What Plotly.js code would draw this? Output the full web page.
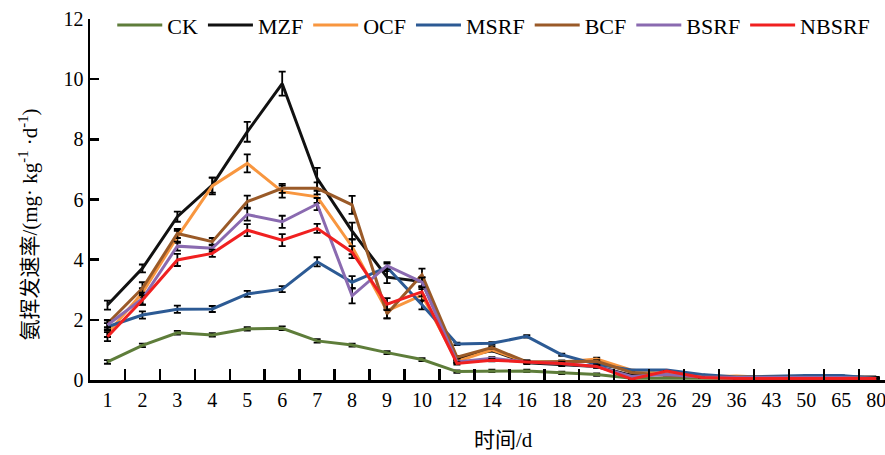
<!DOCTYPE html>
<html>
<head>
<meta charset="utf-8">
<script src="https://cdn.plot.ly/plotly-3.0.1.min.js"></script>
<style>html,body{margin:0;padding:0;overflow:hidden;background:#fff;}#chart{width:885px;height:455px;}</style>
</head>
<body>
<div id="chart"></div>
<script>
var days = ["1","2","3","4","5","6","7","8","9","10","12","14","16","18","20","23","26","29","36","43","50","65","80"];
var seriesNames = ["CK","MZF","OCF","MSRF","BCF","BSRF","NBSRF"];
var CK    = [0.60,1.15,1.57,1.50,1.70,1.72,1.30,1.16,0.91,0.68,0.28,0.30,0.30,0.24,0.18,0.06,0.06,0.06,0.06,0.06,0.06,0.06,0.06];
var MZF   = [2.49,3.71,5.43,6.48,8.25,9.85,6.70,4.95,3.42,3.27,0.72,0.98,0.57,0.50,0.45,0.15,0.20,0.10,0.08,0.06,0.06,0.10,0.10];
var OCF   = [1.55,2.90,4.76,6.45,7.20,6.26,6.09,4.43,2.30,2.82,0.62,1.00,0.60,0.60,0.70,0.33,0.20,0.10,0.13,0.08,0.08,0.08,0.05];
var MSRF  = [1.77,2.16,2.35,2.36,2.86,3.02,3.93,3.25,3.75,2.50,1.20,1.22,1.45,0.84,0.52,0.33,0.33,0.18,0.10,0.13,0.15,0.15,0.05];
var BCF   = [1.88,3.05,4.87,4.60,5.93,6.37,6.37,5.82,2.20,3.50,0.76,1.08,0.60,0.60,0.62,0.25,0.15,0.10,0.10,0.08,0.08,0.08,0.05];
var BSRF  = [1.83,2.70,4.45,4.38,5.50,5.26,5.85,2.80,3.80,3.25,0.60,0.72,0.60,0.55,0.45,0.12,0.18,0.10,0.08,0.08,0.10,0.08,0.05];
var NBSRF = [1.44,2.66,3.99,4.21,4.98,4.65,5.04,4.25,2.52,2.93,0.55,0.66,0.60,0.55,0.45,0.03,0.30,0.08,0.05,0.05,0.05,0.05,0.05];
var errCK    = [0.06,0.06,0.06,0.06,0.06,0.06,0.06,0.05,0.05,0.05,0.04,0.04,0.04,0.04,0.04,0,0,0,0,0,0,0,0];
var errMZF   = [0.15,0.13,0.17,0.25,0.33,0.40,0.35,0.28,0.20,0.15,0.04,0.04,0.04,0.04,0.04,0,0,0,0,0,0,0,0];
var errOCF   = [0.12,0.15,0.20,0.28,0.30,0.20,0.20,0.25,0.25,0.20,0.04,0.04,0.04,0.04,0.04,0,0,0,0,0,0,0,0];
var errMSRF  = [0.12,0.12,0.12,0.10,0.10,0.10,0.15,0.20,0.12,0.15,0.04,0.04,0.04,0.04,0.04,0,0,0,0,0,0,0,0];
var errBCF   = [0.12,0.20,0.15,0.12,0.20,0.15,0.20,0.30,0.15,0.20,0.04,0.04,0.04,0.04,0.04,0,0,0,0,0,0,0,0];
var errBSRF  = [0.15,0.20,0.15,0.12,0.20,0.20,0.20,0.25,0.12,0.15,0.04,0.04,0.04,0.04,0.04,0,0,0,0,0,0,0,0];
var errNBSRF = [0.15,0.15,0.20,0.12,0.20,0.20,0.15,0.20,0.20,0.15,0.04,0.04,0.04,0.04,0.04,0,0,0,0,0,0,0,0];
var yTickVals = [0,2,4,6,8,10,12];

var values = [CK,MZF,OCF,MSRF,BCF,BSRF,NBSRF];
var errs = [errCK,errMZF,errOCF,errMSRF,errBCF,errBSRF,errNBSRF];
var colors = ["#5E7D3A","#111111","#F8963F","#2C5A94","#9A5A28","#8A6AB0","#F02020"];

var font = "Liberation Serif, Noto Sans CJK SC, serif";
var traces = seriesNames.map(function(n,i){
  return {
    type:"scatter", mode:"lines", name:n, x:days, y:values[i],
    line:{color:colors[i], width:3},
    error_y:{type:"data", array:errs[i], visible:true, color:"#000", thickness:1.8, width:3.5}
  };
});

var layout = {
  width:885, height:455,
  margin:{l:89.5, r:0, t:19, b:75},
  paper_bgcolor:"#fff", plot_bgcolor:"#fff",
  font:{family:font, size:20, color:"#000"},
  showlegend:true,
  legend:{orientation:"h", x:0.028, xanchor:"left", y:0.983, yanchor:"middle",
          font:{family:font, size:22, color:"#000", weight:"normal"}, itemwidth:45, bgcolor:"rgba(0,0,0,0)"},
  xaxis:{type:"category", range:[-0.5,22.25], showgrid:false, zeroline:false,
         showline:true, linecolor:"#000", linewidth:2.5,
         ticks:"inside", tickson:"boundaries", ticklen:11, tickwidth:2.5, tickcolor:"#000",
         tickfont:{family:font, size:20}, fixedrange:true},
  yaxis:{range:[0,12], tickvals:yTickVals, showgrid:false, zeroline:false,
         showline:true, linecolor:"#000", linewidth:2.5,
         ticks:"inside", ticklen:9, tickwidth:2.5, tickcolor:"#000",
         tickfont:{family:font, size:20}, fixedrange:true},
  annotations:[
    {text:"氨挥发速率/(mg· kg<sup>-1</sup> ·d<sup>-1</sup>)", xref:"paper", yref:"paper",
     x:-0.077, y:0.43, xanchor:"center", yanchor:"middle", textangle:-90, showarrow:false,
     font:{family:font, size:21, color:"#000"}},
    {text:"时间/d", xref:"paper", yref:"paper", x:0.52, y:-0.165, xanchor:"center", yanchor:"middle",
     showarrow:false, font:{family:font, size:21, color:"#000"}}
  ]
};

Plotly.newPlot("chart", traces, layout, {displayModeBar:false, staticPlot:true});
</script>
</body>
</html>
